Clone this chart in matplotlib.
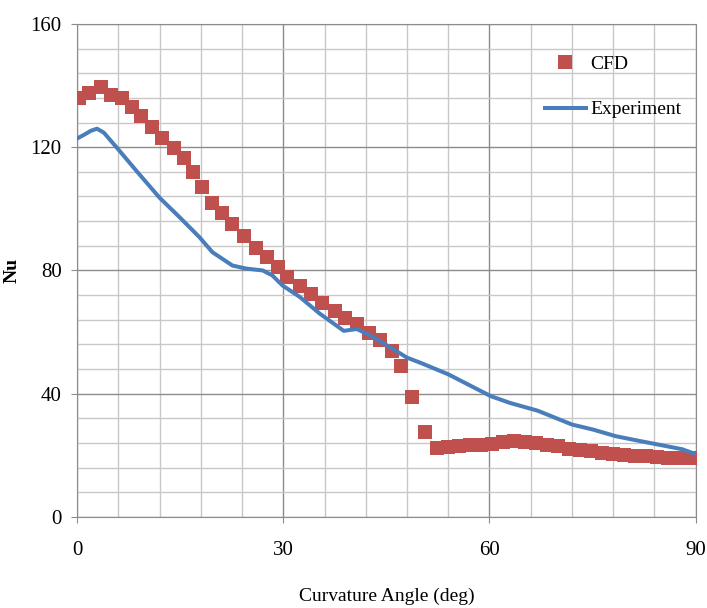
import matplotlib.pyplot as plt
from matplotlib.ticker import MultipleLocator

plt.rcParams['font.family'] = ['Liberation Serif', 'DejaVu Serif']

# CFD results (square markers)
cfd_angle = [0.3, 1.7, 3.5, 5.0, 6.6, 8.0, 9.3, 10.9, 12.4, 14.1, 15.5, 16.8,
             18.2, 19.7, 21.1, 22.6, 24.3, 26.1, 27.6, 29.2, 30.6, 32.4, 34.0,
             35.6, 37.5, 39.0, 40.7, 42.4, 44.0, 45.8, 47.2, 48.8, 50.6, 52.3,
             53.9, 55.5, 57.1, 58.7, 60.3, 61.9, 63.5, 65.1, 66.7, 68.3, 69.9,
             71.5, 73.1, 74.7, 76.3, 77.9, 79.5, 81.1, 82.7, 84.3, 85.9, 87.5,
             89.1, 90.0]
cfd_nu = [136.0, 137.5, 139.5, 137.0, 136.0, 133.0, 130.0, 126.5, 123.0, 119.8,
          116.5, 112.0, 107.0, 102.0, 98.8, 95.2, 91.3, 87.4, 84.2, 81.0, 78.0,
          75.0, 72.5, 69.5, 67.0, 64.5, 62.5, 59.8, 57.3, 54.0, 49.0, 39.0,
          27.6, 22.5, 22.8, 23.0, 23.2, 23.4, 23.8, 24.2, 24.5, 24.4, 24.0,
          23.5, 22.9, 22.2, 21.7, 21.3, 20.9, 20.5, 20.2, 19.9, 19.7, 19.5,
          19.3, 19.2, 19.1, 19.1]

# Experimental results (line)
exp_angle = [0.0, 1.0, 2.0, 2.9, 3.9, 5.8, 8.6, 12.0, 14.9, 17.8, 19.7, 22.6,
             24.6, 27.0, 28.4, 29.9, 32.4, 35.3, 38.8, 40.7, 43.0, 45.0, 48.0,
             50.0, 54.0, 60.2, 63.0, 67.0, 72.0, 75.0, 78.4, 82.0, 85.0, 88.0,
             90.0]
exp_nu = [122.8, 124.0, 125.3, 126.0, 124.7, 119.8, 112.4, 103.6, 97.3, 90.8,
          85.9, 81.6, 80.6, 80.0, 78.4, 75.1, 71.4, 66.0, 60.4, 61.0, 58.5,
          55.8, 51.7, 50.0, 46.3, 39.2, 37.0, 34.5, 30.0, 28.4, 26.2, 24.6,
          23.3, 22.0, 20.4]

fig = plt.figure(figsize=(7.07, 6.08), dpi=100)
ax = fig.add_axes([0.109, 0.1497, 0.875, 0.811])

ax.plot(cfd_angle, cfd_nu, 's', color='#C0504D', markersize=10,
        markeredgewidth=0, label='CFD', zorder=3)
ax.plot(exp_angle, exp_nu, '-', color='#4A7EBB', linewidth=2.9,
        label='Experiment', zorder=4)

ax.set_xlim(0, 90)
ax.set_ylim(0, 160)
ax.xaxis.set_major_locator(MultipleLocator(30))
ax.xaxis.set_minor_locator(MultipleLocator(6))
ax.yaxis.set_major_locator(MultipleLocator(40))
ax.yaxis.set_minor_locator(MultipleLocator(8))
ax.grid(which='minor', color='#c8c8c8', linewidth=1.0)
ax.grid(which='major', color='#8c8c8c', linewidth=1.0)
ax.set_axisbelow(True)
for s in ax.spines.values():
    s.set_color('#8c8c8c')
ax.tick_params(which='major', length=4, color='#8c8c8c', labelsize=15)
ax.tick_params(axis='x', which='major', pad=13)
ax.tick_params(axis='y', which='major', pad=7)
ax.tick_params(which='minor', length=0)
# grid every 6 deg / 8 units, labels only on the big divisions

ax.set_xlabel('Curvature Angle (deg)', fontsize=14, labelpad=20)
ax.set_ylabel('Nu', fontsize=14, fontweight='bold')
ax.yaxis.set_label_coords(-0.092, 0.5)

ax.legend(loc='upper left', bbox_to_anchor=(0.756, 0.937), frameon=False,
          fontsize=14, numpoints=1, handlelength=2.1, handletextpad=0.25,
          borderpad=0, borderaxespad=0, labelspacing=1.45)

fig.savefig('out.png', dpi=100)
